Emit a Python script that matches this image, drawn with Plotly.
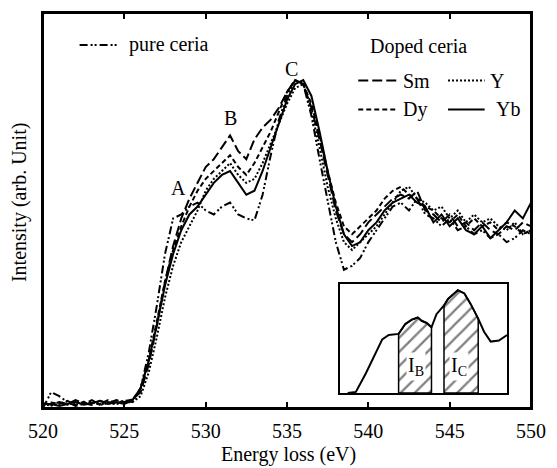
import plotly.graph_objects as go

# energy axis (eV), 0.5 eV steps
energy = [520 + 0.5 * i for i in range(61)]

pure_ceria = [0.0, 0.04, 0.03, 0.015, 0.005, 0.01, 0.02, 0.008, 0.015, 0.01, 0.02, 0.015,
              0.05, 0.14, 0.26, 0.39, 0.48, 0.49, 0.51, 0.52, 0.50, 0.49, 0.51, 0.52, 0.49, 0.48, 0.475, 0.54,
              0.64, 0.73, 0.79, 0.83, 0.82, 0.74, 0.63, 0.52, 0.42, 0.35, 0.36, 0.38, 0.42, 0.45, 0.48, 0.51,
              0.52, 0.50, 0.53, 0.49, 0.48, 0.46, 0.48, 0.45, 0.46, 0.44, 0.45, 0.43, 0.44, 0.42, 0.43, 0.45, 0.44]
sm = [0.012, 0.008, 0.015, 0.01, 0.02, 0.012, 0.008, 0.018, 0.012, 0.02, 0.015, 0.022,
      0.04, 0.11, 0.21, 0.32, 0.41, 0.48, 0.53, 0.57, 0.61, 0.63, 0.66, 0.69, 0.65, 0.63, 0.68, 0.71,
      0.73, 0.76, 0.80, 0.83, 0.82, 0.76, 0.68, 0.59, 0.50, 0.44, 0.42, 0.44, 0.47, 0.49, 0.51, 0.53,
      0.54, 0.53, 0.55, 0.50, 0.49, 0.47, 0.49, 0.46, 0.47, 0.45, 0.47, 0.45, 0.44, 0.46, 0.45, 0.47, 0.46]
dy = [0.008, 0.014, 0.01, 0.018, 0.008, 0.016, 0.012, 0.01, 0.02, 0.012, 0.018, 0.02,
      0.05, 0.12, 0.22, 0.32, 0.40, 0.46, 0.51, 0.55, 0.58, 0.60, 0.62, 0.64, 0.61, 0.59, 0.62, 0.66,
      0.70, 0.75, 0.80, 0.83, 0.82, 0.77, 0.69, 0.60, 0.52, 0.46, 0.44, 0.46, 0.48, 0.50, 0.53, 0.55,
      0.56, 0.54, 0.53, 0.51, 0.50, 0.48, 0.47, 0.49, 0.46, 0.48, 0.46, 0.47, 0.45, 0.47, 0.46, 0.44, 0.45]
y_doped = [0.01, 0.006, 0.012, 0.008, 0.015, 0.01, 0.016, 0.008, 0.012, 0.01, 0.014, 0.015,
           0.03, 0.09, 0.18, 0.28, 0.36, 0.42, 0.46, 0.50, 0.55, 0.58, 0.60, 0.62, 0.59, 0.57, 0.58, 0.62,
           0.67, 0.72, 0.77, 0.81, 0.82, 0.75, 0.66, 0.56, 0.48, 0.42, 0.40, 0.42, 0.44, 0.46, 0.49, 0.52,
           0.55, 0.56, 0.53, 0.52, 0.50, 0.51, 0.48, 0.50, 0.47, 0.49, 0.47, 0.48, 0.46, 0.45, 0.47, 0.44, 0.45]
yb = [0.01, 0.01, 0.005, 0.01, 0.015, 0.008, 0.012, 0.018, 0.01, 0.015, 0.01, 0.02,
      0.05, 0.12, 0.21, 0.31, 0.39, 0.45, 0.49, 0.51, 0.54, 0.57, 0.59, 0.60, 0.57, 0.54, 0.55, 0.60,
      0.66, 0.72, 0.78, 0.82, 0.83, 0.79, 0.70, 0.60, 0.51, 0.44, 0.41, 0.42, 0.45, 0.47, 0.50, 0.52,
      0.53, 0.54, 0.52, 0.51, 0.47, 0.49, 0.46, 0.48, 0.45, 0.44, 0.46, 0.43, 0.45, 0.47, 0.50, 0.48, 0.52]

# inset sketch (arbitrary units)
inset_x = [4.5, 9.4, 15.4, 20.3, 25.2, 29.1, 35.0, 39.0, 42.9, 46.5, 48.8, 51.8, 54.7,
           57.7, 62.2, 64.6, 70.5, 74.4, 78.3, 82.7, 86.2, 90.2, 95.1, 100]
inset_y = [0, 1, 18, 33, 49, 53, 54, 63, 67, 69, 66, 64, 60,
           72, 80, 86, 94, 91, 81, 68, 56, 47, 48, 53]
ib_range = (35.0, 54.7)
ic_range = (62.2, 82.7)

x_ticks = [520, 525, 530, 535, 540, 545, 550]

series = [
    ("pure ceria", pure_ceria, "8px,3px,2px,2px,2px,3px"),
    ("Sm", sm, "10px,4px"),
    ("Dy", dy, "5px,3px"),
    ("Y", y_doped, "2px,2px"),
    ("Yb", yb, "solid"),
]

FONT = "Liberation Serif, Times New Roman, serif"

fig = go.Figure()
for name, vals, dash in series:
    fig.add_trace(go.Scatter(x=energy, y=vals, mode="lines", name=name,
                             line=dict(color="black", width=2, dash=dash)))

# hatched areas in the inset
for lo, hi in (ib_range, ic_range):
    seg = [(x, y) for x, y in zip(inset_x, inset_y) if lo <= x <= hi]
    xs = [lo] + [p[0] for p in seg] + [hi, lo]
    ys = [0] + [p[1] for p in seg] + [0, 0]
    fig.add_trace(go.Scatter(x=xs, y=ys, xaxis="x2", yaxis="y2", mode="lines",
                             fill="toself", fillcolor="white",
                             fillpattern=dict(shape="/", size=10, solidity=0.22,
                                              fgcolor="black", bgcolor="white"),
                             line=dict(color="black", width=1.5)))
fig.add_trace(go.Scatter(x=inset_x, y=inset_y, xaxis="x2", yaxis="y2", mode="lines",
                         line=dict(color="black", width=2)))

axis_common = dict(showline=True, linecolor="black", linewidth=2,
                   showgrid=False, zeroline=False)
fig.update_layout(
    width=557, height=468,
    margin=dict(l=43, r=20, t=11, b=60),
    plot_bgcolor="white", paper_bgcolor="white",
    showlegend=False,
    font=dict(family=FONT, size=20, color="black"),
    xaxis=dict(range=[520, 550], tickvals=x_ticks, mirror="allticks",
               ticks="inside", ticklen=6, tickwidth=1.5, tickcolor="black",
               ticklabelstandoff=4, tickfont=dict(family=FONT, size=20, color="black"),
               **axis_common),
    yaxis=dict(range=[0, 1], showticklabels=False, ticks="", mirror=True, **axis_common),
    xaxis2=dict(domain=[0.609, 0.951], anchor="y2", range=[0, 100], mirror=True,
                showticklabels=False, ticks="", **axis_common),
    yaxis2=dict(domain=[0.038, 0.315], anchor="x2", range=[0, 100], mirror=True,
                showticklabels=False, ticks="", **axis_common),
)

# main frame drawn on top of everything
fig.add_shape(type="rect", xref="paper", yref="paper", x0=0, x1=1, y0=0, y1=1,
              line=dict(color="black", width=2), layer="above")

ann = [
    dict(text="A", x=528.3, y=0.557, xref="x", yref="y"),
    dict(text="B", x=531.5, y=0.735, xref="x", yref="y"),
    dict(text="C", x=535.3, y=0.859, xref="x", yref="y"),
    dict(text="I<sub>B</sub>", x=45.5, y=24, xref="x2", yref="y2", bgcolor="white"),
    dict(text="I<sub>C</sub>", x=71, y=24, xref="x2", yref="y2", bgcolor="white"),
    dict(text="Energy loss (eV)", x=0.504, y=-0.118, xref="paper", yref="paper"),
    dict(text="Intensity (arb. Unit)", x=-0.047, y=0.519, xref="paper", yref="paper",
         textangle=-90),
    dict(text="Doped ceria", x=0.769, y=0.914, xref="paper", yref="paper"),
]
for a in ann:
    fig.add_annotation(showarrow=False, xanchor="center", yanchor="middle",
                       font=dict(family=FONT, size=20), **a)

# hand-placed legend samples
legend_items = [
    ("pure ceria", series[0][2], 0.075, 0.152, 0.919, 0.172),
    ("Sm", series[1][2], 0.646, 0.727, 0.829, 0.733),
    ("Dy", series[2][2], 0.646, 0.727, 0.756, 0.733),
    ("Y", series[3][2], 0.830, 0.905, 0.829, 0.911),
    ("Yb", series[4][2], 0.830, 0.905, 0.756, 0.925),
]
for label, dash, x0, x1, yy, xt in legend_items:
    fig.add_shape(type="line", xref="paper", yref="paper", x0=x0, x1=x1, y0=yy, y1=yy,
                  line=dict(color="black", width=2, dash=dash))
    fig.add_annotation(text=label, x=xt, y=yy, xref="paper", yref="paper",
                       xanchor="left", yanchor="middle", showarrow=False,
                       font=dict(family=FONT, size=20))

fig.write_html("out.html", config={"displayModeBar": False},
               post_script="document.body.style.margin='0';document.body.style.overflow='hidden';")
